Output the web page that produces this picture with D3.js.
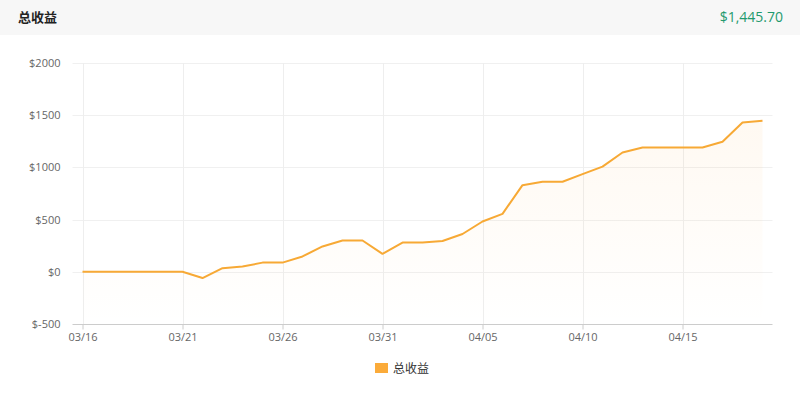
<!DOCTYPE html>
<html>
<head>
<meta charset="utf-8">
<script src="https://cdn.jsdelivr.net/npm/d3@7/dist/d3.min.js"></script>
<style>
  html, body { margin: 0; padding: 0; background: #fff; }
  body { width: 800px; height: 395px; overflow: hidden; font-family: "Noto Sans", "Noto Sans CJK SC", sans-serif; }
</style>
</head>
<body>
<svg id="chart" width="800" height="395"></svg>
<script>
const title = "总收益";
const totalLabel = "$1,445.70";
const dates = ["03/16","03/17","03/18","03/19","03/20","03/21","03/22","03/23","03/24","03/25",
  "03/26","03/27","03/28","03/29","03/30","03/31","04/01","04/02","04/03","04/04",
  "04/05","04/06","04/07","04/08","04/09","04/10","04/11","04/12","04/13","04/14",
  "04/15","04/16","04/17","04/18","04/19"];
const values = [0,0,0,0,0,0,-60,35,50,88,
  88,147,243,300,300,172,280,280,295,362,
  482,555,830,862,862,935,1008,1143,1190,1190,
  1190,1190,1245,1430,1445.7];
const yTicks = [-500,0,500,1000,1500,2000];
const xTickLabels = ["03/16","03/21","03/26","03/31","04/05","04/10","04/15"];

(function () {
const svg = d3.select("#chart");
const cjk = '"Noto Sans CJK SC", "Noto Sans", sans-serif';

// header band
svg.append("rect").attr("x",0).attr("y",0).attr("width",800).attr("height",35).attr("fill","#f7f7f7");
svg.append("text").attr("x",18).attr("y",22).attr("font-family",cjk).attr("font-size",13)
  .attr("font-weight","bold").attr("fill","#222").text(title);
svg.append("text").attr("x",783).attr("y",22).attr("text-anchor","end")
  .attr("font-family",'"Open Sans", sans-serif').attr("font-size",14).attr("fill","#1f9a6e").text(totalLabel);

const pLeft = 72.5, pRight = 772.5, pTop = 63, pBottom = 324;
const x = d3.scalePoint().domain(dates).range([pLeft, pRight]).padding(0.5);
const y = d3.scaleLinear().domain([-500, 2000]).range([pBottom, pTop]);

const g = svg.append("g");

// horizontal grid
g.selectAll(".hg").data(yTicks.filter(d => d !== -500)).join("line")
  .attr("x1", pLeft).attr("x2", pRight)
  .attr("y1", d => Math.round(y(d)) + 0.5).attr("y2", d => Math.round(y(d)) + 0.5)
  .attr("stroke", "#f0f0f0").attr("stroke-width", 1);
// vertical grid
g.selectAll(".vg").data(xTickLabels).join("line")
  .attr("x1", d => Math.round(x(d)) + 0.5).attr("x2", d => Math.round(x(d)) + 0.5)
  .attr("y1", pTop).attr("y2", pBottom)
  .attr("stroke", "#eeeeee").attr("stroke-width", 1);

// gradient area
const defs = svg.append("defs");
const grad = defs.append("linearGradient").attr("id","ag").attr("x1",0).attr("y1",0).attr("x2",0).attr("y2",1);
grad.append("stop").attr("offset","0%").attr("stop-color","#ffa940").attr("stop-opacity",0.07);
grad.append("stop").attr("offset","100%").attr("stop-color","#ffa940").attr("stop-opacity",0.0);

const pts = dates.map((d, i) => ({ d, v: values[i] }));
const area = d3.area().x(p => x(p.d)).y0(pBottom).y1(p => y(p.v));
g.append("path").datum(pts).attr("d", area).attr("fill", "url(#ag)");

const line = d3.line().x(p => x(p.d)).y(p => y(p.v));
g.append("path").datum(pts).attr("d", line).attr("fill", "none")
  .attr("stroke", "#f7a935").attr("stroke-width", 2).attr("stroke-linejoin","round");

// y axis labels
const yAxis = d3.axisLeft(y).tickValues(yTicks).tickSize(0).tickPadding(12)
  .tickFormat(d => "$" + d);
const ya = svg.append("g").attr("transform", `translate(${pLeft},0)`).call(yAxis);
ya.select(".domain").remove();
ya.selectAll("text").attr("font-family",'"Open Sans", sans-serif').attr("font-size",11).attr("fill","#666");

// x axis
const xAxis = d3.axisBottom(x).tickValues(xTickLabels).tickSize(5).tickSizeOuter(0).tickPadding(4);
const xa = svg.append("g").attr("transform", `translate(0,${pBottom + 0.5})`).call(xAxis);
xa.select(".domain").attr("stroke", "#cccccc").attr("d", `M${pLeft},0H${pRight}`);
xa.selectAll(".tick line").attr("stroke", "#cccccc");
xa.selectAll("text").attr("font-family",'"Open Sans", sans-serif').attr("font-size",11).attr("fill","#666");

// legend
const lg = svg.append("g").attr("transform","translate(375,363)");
lg.append("rect").attr("x",0).attr("y",0).attr("width",13).attr("height",10).attr("fill","#fbab3a");
lg.append("text").attr("x",18).attr("y",9.5).attr("font-family",cjk).attr("font-size",12).attr("fill","#333").text(title);
})();
</script>
</body>
</html>
